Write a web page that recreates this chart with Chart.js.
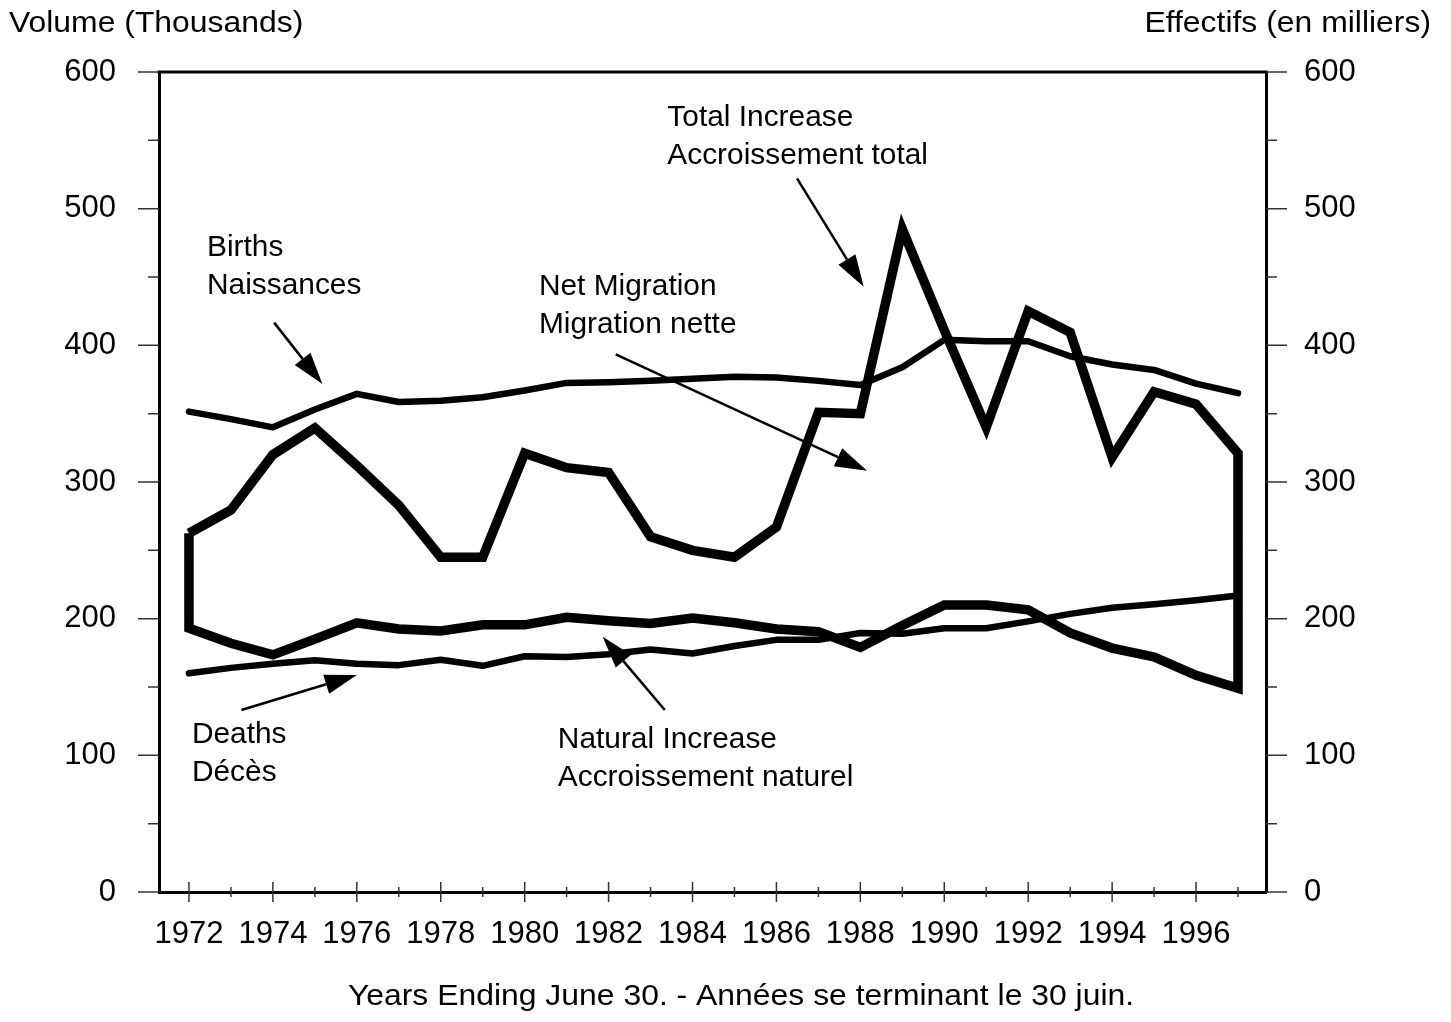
<!DOCTYPE html>
<html>
<head>
<meta charset="utf-8">
<title>Population growth components</title>
<script src="https://cdn.jsdelivr.net/npm/chart.js@4.4.1/dist/chart.umd.min.js"></script>
<style>
  body { margin: 0; background: #fff; }
  canvas { display: block; }
</style>
</head>
<body>
<canvas id="growthChart" width="1451" height="1022"></canvas>
<script>
// values in thousands, years ending June 30
let years = [1972, 1973, 1974, 1975, 1976, 1977, 1978, 1979, 1980, 1981, 1982, 1983, 1984,
             1985, 1986, 1987, 1988, 1989, 1990, 1991, 1992, 1993, 1994, 1995, 1996, 1997];

let births = [351.5, 346, 340, 353, 364.5, 358.5, 359.5, 362, 367, 372.5, 373, 374, 375.5,
              377, 376.5, 374, 371, 384, 404, 403, 403, 392, 386, 382, 372, 365];

let deaths = [160, 164, 167, 169.5, 167, 166, 170, 165.5, 172.5, 172, 174, 177.5, 174.5,
              180, 184.5, 184.5, 189.5, 189, 193, 193, 198, 203.5, 208, 210.5, 213.5, 217];

let naturalIncrease = [193, 182, 173.5, 185, 197, 192.5, 191, 195.5, 195.5, 201, 198.5, 196.5, 200.5,
                       197, 192.5, 190.5, 179, 195, 210, 210, 206.5, 189.5, 178.5, 172, 158.5, 149];

let totalIncrease = [262.5, 279.5, 320, 339.5, 312, 283, 245, 245, 321, 310.5, 307, 260, 250,
                     245, 267, 351, 350, 485, 411, 340, 425, 409.5, 318, 366, 357, 321];

let yTicks = [0, 100, 200, 300, 400, 500, 600];

let font = "'Liberation Sans', Arial, Helvetica, sans-serif";

// net migration = band between natural increase and total increase, drawn as a closed outline
let migrationBand = [];
years.forEach((y, i) => migrationBand.push({x: y, y: totalIncrease[i]}));
for (let i = years.length - 1; i >= 0; i--) {
    migrationBand.push({x: years[i], y: naturalIncrease[i]});
}
migrationBand.push({x: years[0], y: totalIncrease[0]});

function series(values){
    return years.map((y, i) => ({x: y, y: values[i]}));
}

// labels and arrows, anchored in data units
let notes = [
    {lines: ["Births", "Naissances"], x: 1972.43, y: 465.4, arrow: [1974.03, 416.6, 1975.18, 371.7]},
    {lines: ["Total Increase", "Accroissement total"], x: 1983.40, y: 560.5, arrow: [1986.49, 522.2, 1988.08, 442.9]},
    {lines: ["Net Migration", "Migration nette"], x: 1980.34, y: 436.8, arrow: [1982.17, 393.4, 1988.16, 308.3]},
    {lines: ["Deaths", "Décès"], x: 1972.07, y: 108.8, arrow: [1973.25, 133.2, 1976.0, 158.8]},
    {lines: ["Natural Increase", "Accroissement naturel"], x: 1980.79, y: 105.1, arrow: [1983.34, 133.2, 1981.86, 186.8]}
];

function stretchText(ctx, text, x, y, size, sx, align){
    ctx.save();
    ctx.translate(x, y);
    ctx.scale(sx, 1);
    ctx.font = size + "px " + font;
    ctx.textAlign = align;
    ctx.textBaseline = "alphabetic";
    ctx.fillStyle = "#000";
    ctx.fillText(text, 0, 0);
    ctx.restore();
}

function drawArrow(ctx, x1, y1, x2, y2){
    let ang = Math.atan2(y2 - y1, x2 - x1);
    let hl = 32, hw = 10;
    let bx = x2 - hl * Math.cos(ang);
    let by = y2 - hl * Math.sin(ang);
    ctx.beginPath();
    ctx.moveTo(x1, y1);
    ctx.lineTo(bx, by);
    ctx.lineWidth = 2.5;
    ctx.strokeStyle = "#000";
    ctx.stroke();
    ctx.beginPath();
    ctx.moveTo(x2, y2);
    ctx.lineTo(bx + hw * Math.sin(ang), by - hw * Math.cos(ang));
    ctx.lineTo(bx - hw * Math.sin(ang), by + hw * Math.cos(ang));
    ctx.closePath();
    ctx.fillStyle = "#000";
    ctx.fill();
}

let frameTicks = {
    id: "frameTicks",
    afterDraw(chart){
        let ctx = chart.ctx;
        let area = chart.chartArea;
        let ys = chart.scales.y;
        let xs = chart.scales.x;

        ctx.save();
        ctx.strokeStyle = "#000";
        ctx.lineWidth = 3;
        ctx.beginPath();
        ctx.moveTo(area.left - 1.5, area.top);
        ctx.lineTo(area.right + 1.5, area.top);
        ctx.stroke();

        ctx.strokeStyle = "#333";
        ctx.lineWidth = 1.5;
        for (let v = 0; v <= 600; v += 50) {
            let py = ys.getPixelForValue(v);
            let len = v % 100 === 0 ? 21 : 11;
            ctx.beginPath();
            ctx.moveTo(area.left - len, py);
            ctx.lineTo(area.left, py);
            ctx.moveTo(area.right, py);
            ctx.lineTo(area.right + len, py);
            ctx.stroke();
        }
        years.forEach(yr => {
            let px = xs.getPixelForValue(yr);
            let len = yr % 2 === 0 ? 10 : 5;
            ctx.beginPath();
            ctx.moveTo(px, area.bottom - len);
            ctx.lineTo(px, area.bottom + len);
            ctx.stroke();
        });

        notes.forEach(n => {
            let px = xs.getPixelForValue(n.x);
            let py = ys.getPixelForValue(n.y);
            n.lines.forEach((t, i) => stretchText(ctx, t, px, py + i * 38, 29, 1.03, "left"));
            let a = n.arrow;
            drawArrow(ctx, xs.getPixelForValue(a[0]), ys.getPixelForValue(a[1]),
                           xs.getPixelForValue(a[2]), ys.getPixelForValue(a[3]));
        });

        stretchText(ctx, "Volume (Thousands)", 9, 32, 29, 1.1, "left");
        stretchText(ctx, "Effectifs (en milliers)", 1431, 32, 29, 1.1, "right");
        stretchText(ctx, "Years Ending June 30. - Années se terminant le 30 juin.", 741, 1005, 29, 1.1, "center");
        ctx.restore();
    }
};

let yAxis = (side, pad, width) => ({
    position: side,
    min: 0,
    max: 600,
    afterBuildTicks: s => { s.ticks = yTicks.map(v => ({value: v})); },
    ticks: {padding: pad, color: "#000", font: {family: font, size: 31}},
    grid: {drawOnChartArea: false, drawTicks: false},
    border: {color: "#000", width: 3},
    afterFit: s => { s.width = width; }
});

let chart = new Chart(document.getElementById("growthChart"), {
    type: "line",
    data: {
        datasets: [
            {label: "Births / Naissances", data: series(births), borderColor: "#000", borderWidth: 6.5,
             borderCapStyle: "round", borderJoinStyle: "round"},
            {label: "Deaths / Décès", data: series(deaths), borderColor: "#000", borderWidth: 6.5,
             borderCapStyle: "round", borderJoinStyle: "round"},
            {label: "Net Migration / Migration nette", data: migrationBand, borderColor: "#000", borderWidth: 9.5,
             borderJoinStyle: "miter", fill: false}
        ]
    },
    options: {
        responsive: false,
        animation: false,
        devicePixelRatio: 1,
        layout: {padding: {top: 72, left: 0, right: 0, bottom: 0}},
        elements: {point: {radius: 0}, line: {tension: 0}},
        plugins: {legend: {display: false}, tooltip: {enabled: false}},
        scales: {
            x: {
                type: "linear",
                min: 1971.286,
                max: 1997.667,
                afterBuildTicks: s => { s.ticks = years.filter(y => y % 2 === 0).map(v => ({value: v})); },
                ticks: {padding: 24, color: "#000", font: {family: font, size: 31},
                        autoSkip: false, maxRotation: 0, minRotation: 0,
                        callback: v => String(v)},
                grid: {drawOnChartArea: false, drawTicks: false},
                border: {color: "#000", width: 3},
                afterFit: s => { s.height = 130; }
            },
            y: yAxis("left", 43, 159),
            y2: yAxis("right", 38, 185)
        }
    },
    plugins: [frameTicks]
});
</script>
</body>
</html>
